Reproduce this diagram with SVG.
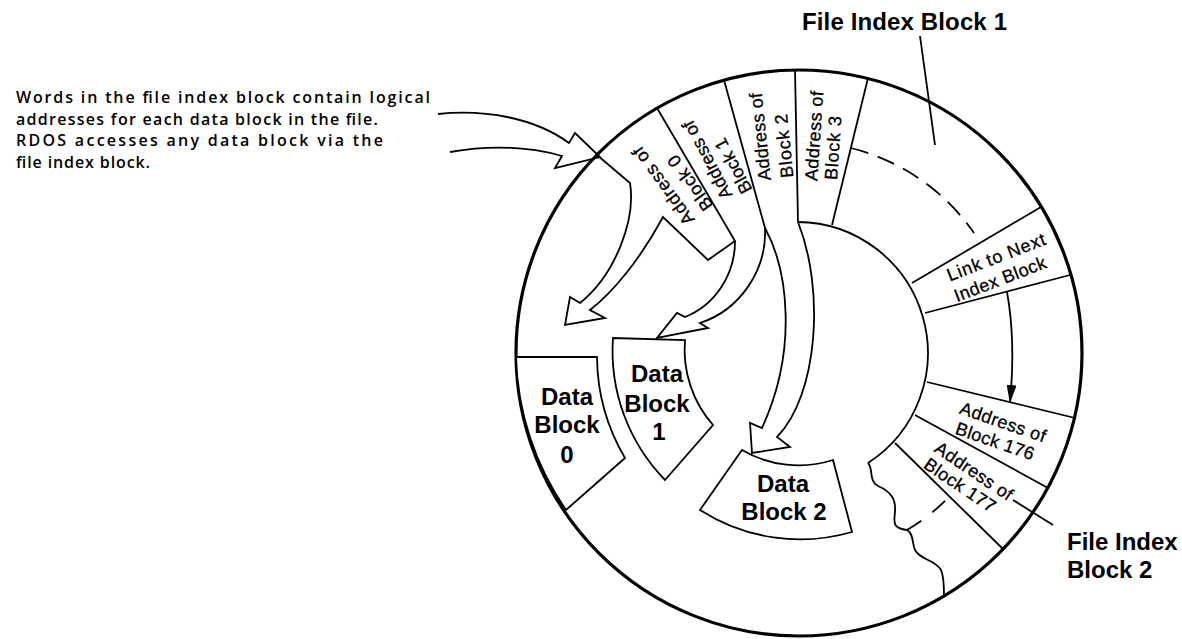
<svg xmlns="http://www.w3.org/2000/svg" width="1182" height="639" viewBox="0 0 1182 639">
<defs>
<style>
.ln{fill:none;stroke:#000;stroke-width:1.8;stroke-linejoin:miter}
.sh{fill:#fff;stroke:#000;stroke-width:1.8}
.rim{fill:none;stroke:#000;stroke-width:3.2}
.dash{fill:none;stroke:#000;stroke-width:1.8;stroke-dasharray:18 10}
.w{font-family:"Liberation Sans",Arial,sans-serif;font-size:18px;fill:#000;stroke:#000;stroke-width:0.3}
.b{font-family:"Liberation Sans",Arial,sans-serif;font-weight:bold;font-size:24px;fill:#000}
.p{font-family:"Open Sans","Liberation Sans",Arial,sans-serif;font-weight:600;font-size:16px;fill:#000}
</style>
<marker id="head" viewBox="0 0 18 10" refX="17" refY="5" markerWidth="18" markerHeight="10" markerUnits="userSpaceOnUse" orient="auto"><path d="M0,0 L18,5 L0,10 Z" fill="#000"/></marker>
</defs>
<rect width="1182" height="639" fill="#fff"/>

<g id="caption">
<text class="p" x="16" y="103" textLength="414" lengthAdjust="spacing">Words in the file index block contain logical</text>
<text class="p" x="16" y="125" textLength="362" lengthAdjust="spacing">addresses for each data block in the file.</text>
<text class="p" x="16" y="146" textLength="367" lengthAdjust="spacing">RDOS accesses any data block via the</text>
<text class="p" x="16" y="168" textLength="134" lengthAdjust="spacing">file index block.</text>
</g>

<g id="disk">
<circle class="rim" cx="799" cy="353" r="283"/>
<path class="ln" d="M798,222 A131,131 0 0 1 868,463"/>
</g>

<g id="word-0">
<path class="ln" d="M597,155 L630,183 C636,220 615,275 580,303 L570,297 L565,325 L605,318 L590,310 C612,293 640,260 663,217 L708,260 L735,241 L657,108"/>
<text class="w" text-anchor="middle" dy="0.35em" transform="translate(663,186) rotate(-126)" textLength="92" lengthAdjust="spacing">Address of</text>
<text class="w" text-anchor="middle" dy="0.35em" transform="translate(690,183) rotate(-126)" textLength="64" lengthAdjust="spacing">Block 0</text>
</g>

<g id="word-1">
<path class="ln" d="M735,241 C735,275 715,305 685,317 L677,313 L657,338 L708,328 L700,323 C740,310 767,270 765,228 L724,80"/>
<text class="w" text-anchor="middle" dy="0.35em" transform="translate(707,160) rotate(-118)" textLength="86" lengthAdjust="spacing">Address of</text>
<text class="w" text-anchor="middle" dy="0.35em" transform="translate(733,166) rotate(-118)" textLength="60" lengthAdjust="spacing">Block 1</text>
</g>

<g id="word-2">
<path class="ln" d="M765,228 C788,270 798,350 762,428 L750,423 L752,453 L790,447 L777,437 C818,395 825,290 798,222 L795,70"/>
<text class="w" text-anchor="middle" dy="0.35em" transform="translate(760,137) rotate(-96)" textLength="88" lengthAdjust="spacing">Address of</text>
<text class="w" text-anchor="middle" dy="0.35em" transform="translate(784,146) rotate(-96)" textLength="64" lengthAdjust="spacing">Block 2</text>
</g>

<g id="word-3">
<path class="ln" d="M868,78 L832,225"/>
<text class="w" text-anchor="middle" dy="0.35em" transform="translate(814,136) rotate(-86)" textLength="90" lengthAdjust="spacing">Address of</text>
<text class="w" text-anchor="middle" dy="0.35em" transform="translate(833,148) rotate(-86)" textLength="64" lengthAdjust="spacing">Block 3</text>
</g>

<g id="file-index-block-1">
<path class="dash" d="M851,148 A212,212 0 0 1 974,233"/>
<text class="b" x="802" y="30" textLength="205" lengthAdjust="spacing">File Index Block 1</text>
</g>

<g id="link-word">
<path class="ln" d="M912,283 L1041,207 M925,313 L1070,275"/>
<text class="w" text-anchor="middle" dy="0.35em" transform="translate(996,257) rotate(-21)" textLength="104" lengthAdjust="spacing">Link to Next</text>
<text class="w" text-anchor="middle" dy="0.35em" transform="translate(1000,279) rotate(-21)" textLength="97" lengthAdjust="spacing">Index Block</text>
</g>

<g id="word-176">
<path class="ln" d="M927,382 L1075,418 M915,415 L1048,488"/>
<text class="w" text-anchor="middle" dy="0.35em" transform="translate(1003,422) rotate(19)" textLength="90" lengthAdjust="spacing">Address of</text>
<text class="w" text-anchor="middle" dy="0.35em" transform="translate(995,441) rotate(19)" textLength="82" lengthAdjust="spacing">Block 176</text>
</g>

<g id="word-177">
<path class="ln" d="M895,443 L1003,549"/>
<text class="w" text-anchor="middle" dy="0.35em" transform="translate(974,471) rotate(34)" textLength="90" lengthAdjust="spacing">Address of</text>
<text class="w" text-anchor="middle" dy="0.35em" transform="translate(960,485) rotate(34)" textLength="82" lengthAdjust="spacing">Block 177</text>
</g>

<g id="file-index-block-2">
<path class="ln" d="M868,463 C874,470 868,480 878,486 C892,492 896,500 895,512 C894,522 892,528 907,530 C914,534 912,544 915,550 C920,560 936,560 941,570 C944,576 944,585 944,596"/>
<path class="ln" style="stroke-dasharray:17 14" d="M907,530 A208,208 0 0 0 947,499"/>
<text class="b" x="1067" y="550">File Index</text>
<text class="b" x="1067" y="578">Block 2</text>
</g>

<g id="data-block-0">
<path class="sh" d="M516,357 L597,357 A202,202 0 0 0 625,458 L566,510 A283,283 0 0 1 516,357 Z"/>
<text class="b" text-anchor="middle" x="567" y="405">Data</text>
<text class="b" text-anchor="middle" x="567" y="433">Block</text>
<text class="b" text-anchor="middle" x="567" y="463">0</text>
</g>

<g id="data-block-1">
<path class="sh" d="M613,338 L685,340 A114,114 0 0 0 713,425 L665,480 A185,185 0 0 1 613,338 Z"/>
<text class="b" text-anchor="middle" x="657" y="382">Data</text>
<text class="b" text-anchor="middle" x="657" y="412">Block</text>
<text class="b" text-anchor="middle" x="659" y="440">1</text>
</g>

<g id="data-block-2">
<path class="sh" d="M742,450 A112,112 0 0 0 833,460 L852,532 A186,186 0 0 1 700,510 Z"/>
<text class="b" text-anchor="middle" x="783" y="492">Data</text>
<text class="b" text-anchor="middle" x="784" y="520">Block 2</text>
</g>

<g id="connectors">
<path class="ln" d="M438,114 C485,109 535,118 569,143 L575,133 L600,157 L555,168 L562,156 C530,147 490,145 450,152"/>
<path class="ln" d="M1007,292 C1013,325 1014,360 1010,402" marker-end="url(#head)"/>
<path class="ln" d="M920,36 L935,145"/>
<path class="ln" d="M1013,500 L1053,525"/>
</g>
</svg>
